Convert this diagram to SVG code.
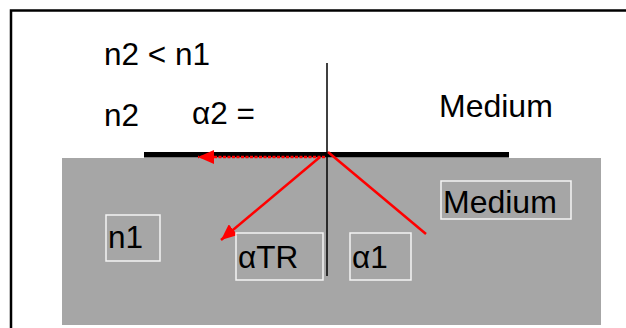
<svg xmlns="http://www.w3.org/2000/svg" width="626" height="328" viewBox="0 0 626 328">
<style>
text{font-family:"Liberation Sans",Arial,sans-serif;font-size:31.5px;fill:#000}
.box{fill:none;stroke:#f4f4f4;stroke-width:1.5}
.ray{stroke:#ff0000;stroke-width:2.5;fill:none}
</style>
<defs>
<marker id="ah" markerUnits="userSpaceOnUse" markerWidth="18" markerHeight="14" refX="16" refY="7" orient="auto">
<path d="M0,0 L16,7 L0,14 Z" fill="#ff0000"/>
</marker>
</defs>
<rect width="626" height="328" fill="#fff"/>
<path d="M11,330 V10.5 H630" fill="none" stroke="#000" stroke-width="2.5"/>
<g id="medium1">
<rect x="62" y="158" width="539" height="167" fill="#a6a6a6"/>
</g>
<g id="interface">
<rect x="144" y="152" width="365" height="5.5" fill="#000"/>
</g>
<g id="normal">
<line x1="327" y1="63" x2="327" y2="276" stroke="#000" stroke-width="1.5"/>
</g>
<g id="connectors">
<line class="ray" x1="426" y1="234" x2="328" y2="152"/>
<line class="ray" x1="320" y1="157" x2="221" y2="240" marker-end="url(#ah)"/>
<line class="ray" x1="325" y1="157" x2="198" y2="157" stroke-width="3" stroke-dasharray="3 1.5" marker-end="url(#ah)"/>
</g>
<g id="label-n2n1"><text x="104" y="65">n2 &lt; n1</text></g>
<g id="label-n2"><text x="104" y="126">n2</text></g>
<g id="label-a2"><text x="192" y="124">α2 =</text></g>
<g id="label-medium2"><text x="439" y="117" style="font-size:32px">Medium</text></g>
<g id="label-medium1">
<rect class="box" x="441" y="181" width="130" height="38"/>
<text x="443" y="213" style="font-size:32px">Medium</text>
</g>
<g id="label-n1">
<rect class="box" x="106" y="215" width="54" height="46"/>
<text x="108" y="248">n1</text>
</g>
<g id="label-aTR">
<rect class="box" x="236" y="233" width="87" height="47"/>
<text x="238" y="268">αTR</text>
</g>
<g id="label-a1">
<rect class="box" x="350" y="233" width="61" height="47"/>
<text x="352" y="268">α1</text>
</g>
</svg>
